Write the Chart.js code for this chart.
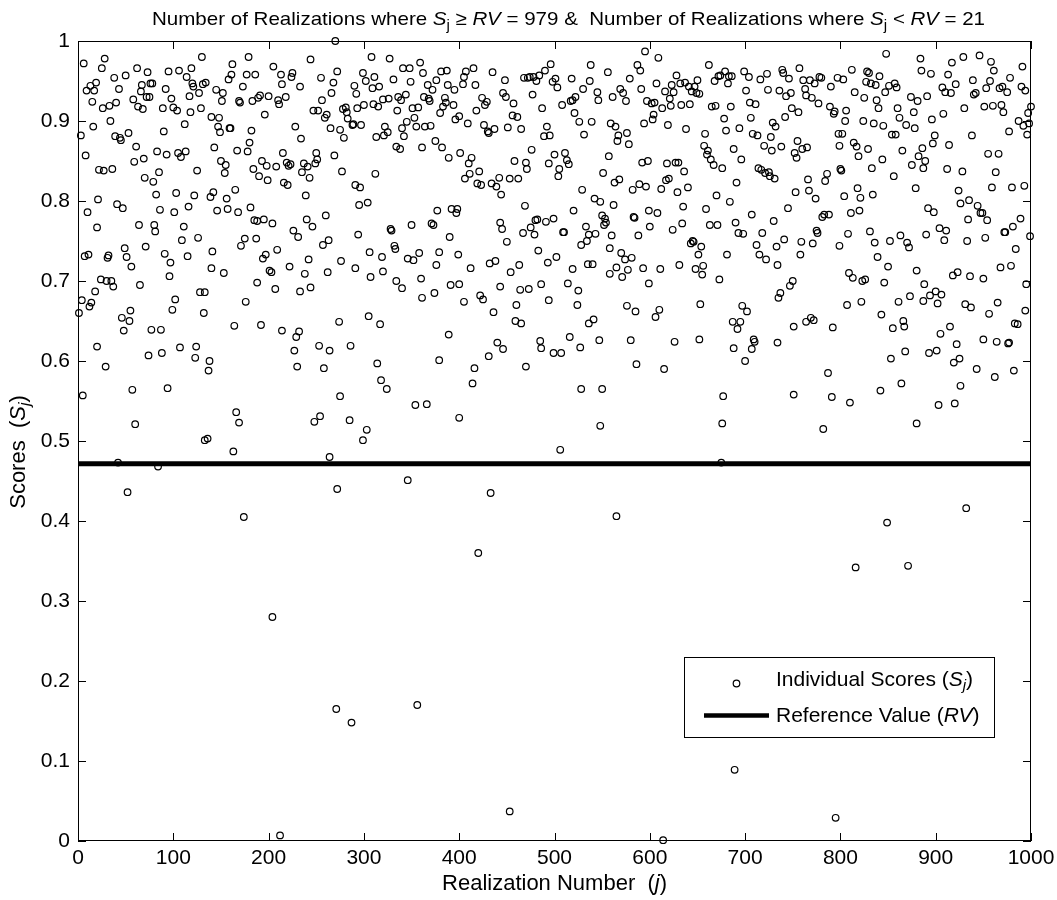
<!DOCTYPE html>
<html lang="en">
<head>
<meta charset="UTF-8">
<title>Individual scores vs realization number</title>
<script src="https://cdn.jsdelivr.net/npm/chart.js@4.4.1/dist/chart.umd.min.js"></script>
<style>
  html, body { margin: 0; padding: 0; background: #fff; }
  #wrap { width: 1057px; height: 900px; }
</style>
</head>
<body>
<div id="wrap"><canvas id="chart" width="1057" height="900"></canvas></div>
<script>
// Scores as [realization j, score S_j], grouped by x range
const scores0to200 = [
  [130,0.980],[28,0.978],[179,0.980],[162,0.971],[6,0.972],[25,0.966],[62,0.966],[119,0.966],[106,0.963],[95,0.962],
  [73,0.961],[50,0.957],[38,0.954],[161,0.958],[177,0.958],[186,0.958],[114,0.955],[158,0.952],[134,0.948],[19,0.948],
  [76,0.947],[78,0.947],[67,0.945],[120,0.947],[13,0.944],[121,0.943],[173,0.943],[131,0.946],[43,0.940],[9,0.938],
  [17,0.938],[92,0.940],[66,0.937],[145,0.939],[152,0.935],[127,0.935],[117,0.931],[200,0.931],[191,0.932],[189,0.929],
  [72,0.930],[75,0.930],[58,0.927],[98,0.928],[15,0.924],[40,0.923],[151,0.925],[169,0.925],[170,0.923],[183,0.925],
  [26,0.916],[33,0.919],[63,0.918],[68,0.915],[89,0.916],[100,0.917],[104,0.913],[118,0.911],[129,0.916],[196,0.908],
  [140,0.905],[148,0.904],[34,0.900],[112,0.896],[16,0.893],[147,0.893],[159,0.891],[160,0.891],[149,0.886],[3,0.882],
  [182,0.888],[90,0.887],[53,0.885],[39,0.881],[44,0.879],[45,0.876],[61,0.868],[143,0.867],[180,0.873],[8,0.857],
  [83,0.862],[93,0.858],[105,0.860],[113,0.862],[108,0.855],[167,0.863],[178,0.862],[69,0.853],[59,0.849],[150,0.850],
  [155,0.845],[193,0.850],[198,0.844],[22,0.839],[27,0.838],[36,0.840],[85,0.836],[125,0.838],[184,0.840],[154,0.835],
  [70,0.829],[79,0.824],[190,0.831],[199,0.826],[165,0.814],[82,0.808],[103,0.810],[122,0.807],[142,0.811],[139,0.805],
  [156,0.803],[21,0.802],[41,0.796],[47,0.791],[10,0.786],[86,0.789],[101,0.786],[116,0.793],[146,0.788],[157,0.790],
  [168,0.786],[181,0.792],[185,0.776],[188,0.775],[195,0.777],[64,0.770],[80,0.770],[81,0.762],[111,0.768],[20,0.767],
  [175,0.753],[187,0.753],[126,0.754],[109,0.751],[49,0.741],[71,0.743],[171,0.744],[7,0.731],[11,0.733],[31,0.729],
  [32,0.732],[51,0.730],[141,0.737],[91,0.734],[115,0.731],[197,0.733],[194,0.728],[56,0.718],[97,0.723],[140,0.716],
  [153,0.710],[96,0.706],[201,0.713],[24,0.702],[30,0.700],[35,0.700],[37,0.693],[65,0.695],[188,0.698],[18,0.687],
  [4,0.676],[14,0.673],[12,0.668],[1,0.660],[128,0.686],[133,0.686],[102,0.677],[99,0.664],[132,0.660],[176,0.674],
  [46,0.654],[55,0.663],[54,0.650],[48,0.638],[77,0.639],[87,0.639],[164,0.644],[192,0.645],[20,0.618],[74,0.607],
  [88,0.610],[107,0.617],[124,0.618],[123,0.604],[138,0.600],[137,0.588],[29,0.593],[5,0.557],[57,0.564],[94,0.566],
  [166,0.536],[169,0.523],[60,0.521],[133,0.501],[136,0.503],[163,0.487],[42,0.473]
];

const scores200to400 = [
  [270,1.000],[244,0.977],[308,0.980],[327,0.978],[205,0.968],[213,0.958],[225,0.960],[224,0.955],[272,0.962],[299,0.960],
  [255,0.954],[311,0.955],[341,0.966],[348,0.966],[359,0.973],[362,0.960],[381,0.962],[387,0.963],[376,0.951],[214,0.946],
  [233,0.943],[268,0.948],[302,0.950],[331,0.952],[349,0.949],[367,0.945],[388,0.945],[210,0.926],[211,0.921],[218,0.930],
  [290,0.944],[292,0.934],[309,0.941],[316,0.943],[372,0.939],[395,0.939],[266,0.935],[256,0.926],[247,0.913],[252,0.913],
  [259,0.904],[261,0.908],[278,0.915],[281,0.917],[282,0.911],[283,0.903],[288,0.895],[289,0.896],[297,0.895],[293,0.916],
  [300,0.920],[310,0.921],[315,0.918],[320,0.927],[326,0.928],[336,0.930],[339,0.926],[344,0.933],[363,0.930],[368,0.928],
  [369,0.925],[385,0.929],[386,0.923],[383,0.918],[394,0.920],[380,0.910],[335,0.913],[351,0.916],[357,0.917],[353,0.904],
  [345,0.899],[228,0.893],[234,0.878],[265,0.891],[275,0.889],[279,0.879],[313,0.880],[321,0.882],[325,0.886],[322,0.893],
  [340,0.891],[342,0.881],[355,0.893],[364,0.893],[370,0.894],[396,0.902],[400,0.906],[334,0.868],[338,0.865],[361,0.867],
  [375,0.875],[382,0.867],[389,0.854],[401,0.860],[215,0.860],[250,0.860],[251,0.852],[249,0.847],[237,0.847],[241,0.843],
  [235,0.836],[219,0.848],[221,0.844],[223,0.846],[208,0.843],[216,0.823],[220,0.820],[243,0.829],[269,0.857],[277,0.837],
  [312,0.834],[291,0.820],[296,0.817],[239,0.807],[295,0.795],[304,0.798],[204,0.772],[240,0.777],[246,0.768],[260,0.782],
  [226,0.763],[231,0.755],[257,0.745],[263,0.751],[294,0.758],[328,0.765],[329,0.763],[350,0.770],[371,0.772],[373,0.770],
  [377,0.788],[392,0.790],[398,0.790],[397,0.785],[390,0.755],[209,0.739],[242,0.727],[276,0.725],[306,0.736],[319,0.730],
  [332,0.744],[333,0.740],[346,0.728],[352,0.726],[358,0.735],[379,0.736],[399,0.733],[203,0.711],[222,0.718],[238,0.709],
  [262,0.711],[291,0.716],[307,0.705],[320,0.712],[334,0.700],[340,0.691],[360,0.703],[376,0.720],[391,0.695],[400,0.696],
  [207,0.690],[233,0.687],[244,0.692],[361,0.679],[374,0.685],[214,0.638],[232,0.637],[229,0.630],[274,0.649],[305,0.656],
  [317,0.646],[389,0.633],[227,0.613],[253,0.619],[264,0.613],[286,0.619],[230,0.593],[258,0.591],[314,0.597],[379,0.601],
  [318,0.576],[324,0.565],[275,0.556],[354,0.545],[366,0.546],[248,0.524],[254,0.531],[285,0.526],[303,0.514],[299,0.501],
  [264,0.480],[400,0.529]
];

const scores400to600 = [
  [595,0.987],[538,0.970],[587,0.970],[590,0.963],[556,0.961],[496,0.971],[490,0.963],[484,0.957],[478,0.955],[474,0.955],
  [472,0.954],[468,0.954],[481,0.950],[501,0.953],[498,0.949],[503,0.942],[518,0.953],[537,0.950],[530,0.940],[545,0.936],
  [546,0.926],[561,0.930],[569,0.940],[572,0.935],[575,0.925],[579,0.953],[591,0.940],[597,0.925],[435,0.961],[448,0.951],
  [415,0.966],[407,0.962],[405,0.955],[404,0.946],[417,0.945],[446,0.935],[449,0.930],[457,0.922],[477,0.933],[424,0.929],
  [429,0.924],[427,0.920],[487,0.916],[508,0.920],[517,0.925],[519,0.926],[522,0.930],[521,0.910],[526,0.899],[539,0.899],
  [531,0.883],[559,0.897],[564,0.893],[567,0.882],[566,0.875],[576,0.885],[578,0.871],[594,0.897],[409,0.897],[418,0.913],
  [426,0.895],[430,0.887],[431,0.885],[437,0.890],[451,0.892],[456,0.907],[461,0.905],[465,0.890],[492,0.893],[489,0.881],
  [495,0.882],[476,0.864],[410,0.847],[413,0.854],[421,0.837],[411,0.834],[406,0.828],[419,0.822],[423,0.820],[434,0.822],
  [439,0.818],[442,0.829],[444,0.808],[453,0.828],[462,0.828],[458,0.850],[470,0.848],[471,0.840],[494,0.847],[500,0.858],
  [505,0.840],[504,0.831],[511,0.860],[513,0.851],[515,0.846],[557,0.856],[551,0.835],[529,0.814],[542,0.803],[548,0.799],
  [562,0.795],[563,0.823],[568,0.827],[582,0.814],[589,0.821],[592,0.848],[598,0.850],[596,0.818],[469,0.794],[520,0.788],
  [599,0.788],[443,0.773],[445,0.765],[450,0.749],[467,0.760],[475,0.767],[479,0.758],[480,0.776],[482,0.777],[491,0.774],
  [499,0.778],[483,0.738],[510,0.761],[509,0.761],[533,0.768],[536,0.758],[543,0.759],[528,0.745],[534,0.750],[550,0.782],
  [553,0.778],[552,0.770],[554,0.773],[560,0.757],[583,0.780],[584,0.779],[588,0.757],[600,0.768],[558,0.741],[570,0.735],
  [574,0.727],[581,0.729],[565,0.717],[577,0.714],[571,0.705],[558,0.709],[593,0.716],[412,0.716],[432,0.722],[438,0.725],
  [454,0.711],[463,0.720],[493,0.723],[502,0.730],[519,0.715],[535,0.721],[540,0.721],[405,0.674],[422,0.682],[425,0.677],
  [436,0.661],[443,0.693],[460,0.670],[464,0.689],[473,0.690],[486,0.696],[494,0.676],[514,0.697],[525,0.688],[524,0.670],
  [459,0.650],[465,0.647],[536,0.647],[541,0.652],[576,0.669],[585,0.662],[599,0.697],[440,0.623],[446,0.615],[431,0.606],
  [485,0.625],[486,0.616],[499,0.610],[507,0.610],[516,0.630],[527,0.617],[547,0.626],[580,0.626],[586,0.596],[470,0.593],
  [416,0.591],[414,0.572],[528,0.565],[550,0.565],[548,0.519],[506,0.489]
];

const scores600to800 = [
  [609,0.979],[662,0.970],[628,0.957],[607,0.947],[616,0.937],[623,0.945],[625,0.936],[632,0.947],[637,0.948],[641,0.943],
  [644,0.937],[647,0.943],[650,0.951],[649,0.935],[652,0.934],[668,0.950],[672,0.956],[674,0.957],[679,0.962],[683,0.956],
  [682,0.947],[686,0.956],[699,0.962],[704,0.955],[716,0.952],[723,0.959],[701,0.938],[724,0.939],[739,0.964],[740,0.960],
  [746,0.953],[736,0.938],[743,0.931],[748,0.935],[757,0.966],[761,0.951],[768,0.951],[763,0.940],[773,0.947],[778,0.955],
  [780,0.954],[790,0.943],[797,0.954],[764,0.932],[770,0.929],[777,0.922],[789,0.918],[794,0.912],[793,0.909],[602,0.922],
  [605,0.923],[613,0.916],[621,0.928],[622,0.919],[633,0.920],[642,0.921],[665,0.918],[669,0.919],[685,0.918],[705,0.923],
  [711,0.921],[749,0.916],[756,0.911],[742,0.905],[706,0.904],[678,0.903],[604,0.908],[603,0.902],[619,0.895],[638,0.890],
  [658,0.884],[680,0.888],[694,0.891],[708,0.884],[713,0.882],[727,0.880],[729,0.898],[732,0.893],[728,0.863],[720,0.869],
  [738,0.868],[755,0.875],[752,0.860],[754,0.854],[760,0.865],[765,0.867],[798,0.884],[799,0.869],[657,0.869],[661,0.863],
  [660,0.858],[664,0.852],[667,0.845],[676,0.841],[688,0.865],[696,0.852],[618,0.847],[627,0.848],[630,0.848],[636,0.837],
  [714,0.841],[717,0.839],[721,0.835],[725,0.836],[726,0.831],[731,0.828],[766,0.827],[786,0.834],[784,0.825],[800,0.840],
  [612,0.815],[617,0.826],[620,0.828],[629,0.811],[640,0.817],[670,0.807],[691,0.823],[753,0.811],[767,0.813],[774,0.803],
  [608,0.785],[624,0.764],[634,0.772],[635,0.793],[659,0.790],[663,0.770],[671,0.770],[684,0.799],[690,0.773],[693,0.760],
  [698,0.759],[707,0.783],[718,0.760],[730,0.775],[745,0.791],[741,0.752],[759,0.749],[771,0.747],[775,0.763],[776,0.760],
  [781,0.780],[783,0.783],[788,0.783],[799,0.744],[643,0.747],[645,0.750],[646,0.749],[654,0.743],[651,0.733],[681,0.733],
  [712,0.745],[715,0.733],[722,0.727],[733,0.743],[734,0.720],[758,0.733],[631,0.720],[648,0.715],[656,0.719],[655,0.708],
  [673,0.702],[611,0.715],[735,0.679],[737,0.685],[747,0.694],[750,0.700],[653,0.671],[610,0.664],[606,0.655],[697,0.669],
  [702,0.662],[687,0.649],[695,0.649],[692,0.640],[751,0.643],[764,0.649],[769,0.654],[772,0.651],[792,0.642],[626,0.624],
  [652,0.627],[688,0.616],[709,0.627],[710,0.624],[707,0.615],[734,0.623],[700,0.600],[615,0.590],[787,0.585],[677,0.556],
  [751,0.558],[791,0.555],[676,0.522],[782,0.515],[675,0.473]
];

const scores800to1000 = [
  [848,0.984],[884,0.978],[929,0.980],[946,0.982],[958,0.974],[917,0.973],[991,0.968],[812,0.964],[828,0.962],[830,0.960],
  [827,0.949],[832,0.947],[837,0.945],[841,0.956],[803,0.952],[851,0.944],[857,0.947],[859,0.942],[847,0.936],[815,0.936],
  [825,0.929],[838,0.926],[840,0.916],[860,0.916],[874,0.930],[881,0.925],[891,0.931],[885,0.963],[895,0.959],[913,0.958],
  [907,0.942],[910,0.936],[916,0.935],[921,0.946],[939,0.951],[940,0.933],[942,0.935],[953,0.941],[957,0.950],[961,0.963],
  [967,0.941],[970,0.943],[975,0.936],[978,0.954],[990,0.943],[994,0.938],[806,0.913],[805,0.900],[824,0.900],[835,0.897],
  [845,0.894],[854,0.883],[858,0.883],[862,0.904],[869,0.895],[877,0.911],[878,0.891],[896,0.902],[908,0.909],[930,0.916],
  [951,0.918],[960,0.919],[969,0.920],[971,0.911],[977,0.887],[987,0.900],[992,0.894],[998,0.897],[1000,0.918],[997,0.910],
  [996,0.883],[899,0.882],[897,0.872],[914,0.870],[938,0.882],[802,0.884],[814,0.873],[817,0.868],[819,0.856],[829,0.865],
  [833,0.841],[844,0.852],[856,0.831],[865,0.863],[875,0.845],[882,0.856],[886,0.866],[889,0.850],[887,0.841],[912,0.840],
  [928,0.837],[955,0.859],[966,0.859],[963,0.836],[801,0.838],[804,0.806],[818,0.816],[821,0.804],[834,0.808],[811,0.785],
  [820,0.788],[879,0.816],[892,0.791],[898,0.786],[924,0.813],[926,0.797],[935,0.801],[944,0.794],[947,0.785],[949,0.785],
  [954,0.776],[934,0.777],[959,0.817],[980,0.817],[993,0.819],[989,0.778],[981,0.768],[972,0.761],[973,0.761],[808,0.759],
  [831,0.762],[836,0.748],[852,0.750],[863,0.757],[870,0.748],[872,0.742],[839,0.730],[850,0.718],[890,0.758],[904,0.766],
  [911,0.763],[909,0.751],[933,0.750],[952,0.754],[999,0.756],[984,0.740],[809,0.710],[813,0.704],[823,0.700],[826,0.702],
  [846,0.698],[880,0.713],[888,0.696],[918,0.707],[923,0.711],[936,0.706],[950,0.703],[968,0.717],[979,0.719],[995,0.696],
  [807,0.670],[822,0.674],[843,0.658],[861,0.674],[873,0.681],[887,0.675],[894,0.682],[900,0.687],[902,0.672],[906,0.683],
  [931,0.671],[937,0.667],[965,0.673],[956,0.659],[994,0.663],[855,0.641],[866,0.650],[867,0.643],[905,0.634],[915,0.643],
  [950,0.627],[964,0.624],[976,0.622],[977,0.623],[983,0.647],[986,0.646],[922,0.621],[853,0.603],[868,0.612],[893,0.610],
  [901,0.613],[919,0.598],[925,0.603],[943,0.590],[962,0.580],[982,0.588],[864,0.572],[842,0.563],[926,0.569],[903,0.545],
  [920,0.547],[810,0.548],[880,0.522]
];

// the 21 realizations that fall below the reference value
const scoresBelowRV = [
  [52,0.436],[84,0.468],[174,0.405],[204,0.280],[212,0.007],[271,0.165],[272,0.440],[287,0.148],[346,0.451],[356,0.170],
  [420,0.360],[433,0.435],[453,0.037],[565,0.406],[614,0.001],[689,0.089],[795,0.029],[816,0.342],[849,0.398],[871,0.344],
  [932,0.416]
];

const referenceValue = 0.4715;
const countAbove = 979;
const countBelow = 21;

const xTicks = [0, 100, 200, 300, 400, 500, 600, 700, 800, 900, 1000];
const xTickLabels = ['0', '100', '200', '300', '400', '500', '600', '700', '800', '900', '1000'];
const yTicks = [0, 0.1, 0.2, 0.3, 0.4, 0.5, 0.6, 0.7, 0.8, 0.9, 1];
const yTickLabels = ['0', '0.1', '0.2', '0.3', '0.4', '0.5', '0.6', '0.7', '0.8', '0.9', '1'];

const FONT = '"Liberation Sans", Arial, Helvetica, sans-serif';

const allScores = [].concat(scores0to200, scores200to400, scores400to600,
  scores600to800, scores800to1000, scoresBelowRV);

// text with italic / subscript pieces: [text, style] with style '', 'i', 'sub', 'isub'
function setFont(ctx, style, size) {
  const sub = style.indexOf('sub') >= 0;
  const it = style.charAt(0) === 'i';
  ctx.font = (it ? 'italic ' : '') + (sub ? Math.round(size * 0.72) : size) + 'px ' + FONT;
}
function richWidth(ctx, parts, size) {
  let w = 0;
  for (const [t, s] of parts) { setFont(ctx, s, size); w += ctx.measureText(t).width; }
  return w;
}
function drawRich(ctx, parts, x, y, size) {
  ctx.textAlign = 'left';
  ctx.textBaseline = 'middle';
  for (const [t, s] of parts) {
    setFont(ctx, s, size);
    const dy = s.indexOf('sub') >= 0 ? size * 0.3 : 0;
    ctx.fillText(t, x, y + dy);
    x += ctx.measureText(t).width;
  }
}

const titleParts = [
  ['Number of Realizations where ', ''], ['S', 'i'], ['j', 'sub'], [' \u2265 ', ''], ['RV', 'i'],
  [' = ' + countAbove + ' &  Number of Realizations where ', ''], ['S', 'i'], ['j', 'sub'], [' < ', ''],
  ['RV', 'i'], [' = ' + countBelow, '']
];
const xTitleParts = [['Realization Number  (', ''], ['j', 'i'], [')', '']];
const yTitleParts = [['Scores  (', ''], ['S', 'i'], ['j', 'isub'], [')', '']];
const legendScoreParts = [['Individual Scores (', ''], ['S', 'i'], ['j', 'isub'], [')', '']];
const legendRefParts = [['Reference Value (', ''], ['RV', 'i'], [')', '']];

// MATLAB-like box with inward ticks, titles and legend
const decorations = {
  id: 'decorations',
  afterDraw(chart) {
    const ctx = chart.ctx;
    const a = chart.chartArea;
    const sx = chart.scales.x, sy = chart.scales.y;
    ctx.save();
    ctx.strokeStyle = '#000';
    ctx.fillStyle = '#000';
    ctx.lineWidth = 1;
    ctx.strokeRect(a.left + 0.5, a.top + 0.5, a.right - a.left - 1, a.bottom - a.top - 1);
    const tl = 8;
    ctx.beginPath();
    for (const v of xTicks) {
      const px = Math.round(sx.getPixelForValue(v)) + 0.5;
      ctx.moveTo(px, a.bottom); ctx.lineTo(px, a.bottom - tl);
      ctx.moveTo(px, a.top); ctx.lineTo(px, a.top + tl);
    }
    for (const v of yTicks) {
      const py = Math.round(sy.getPixelForValue(v)) + 0.5;
      ctx.moveTo(a.left, py); ctx.lineTo(a.left + tl, py);
      ctx.moveTo(a.right, py); ctx.lineTo(a.right - tl, py);
    }
    ctx.stroke();

    // title, squeezed horizontally like the original
    const tSize = 19;
    const tw = richWidth(ctx, titleParts, tSize);
    ctx.save();
    ctx.translate(152, 20);
    ctx.scale(833 / tw, 1);
    drawRich(ctx, titleParts, 0, 0, tSize);
    ctx.restore();

    // axis titles
    const aSize = 22;
    const xw = richWidth(ctx, xTitleParts, aSize);
    drawRich(ctx, xTitleParts, (a.left + a.right) / 2 - xw / 2, 884, aSize);
    const yw = richWidth(ctx, yTitleParts, aSize);
    ctx.save();
    ctx.translate(19, 452);
    ctx.rotate(-Math.PI / 2);
    drawRich(ctx, yTitleParts, -yw / 2, 0, aSize);
    ctx.restore();

    // legend
    const lx = 684, ly = 657, lw = 310, lh = 80;
    ctx.fillStyle = '#fff';
    ctx.fillRect(lx, ly, lw, lh);
    ctx.strokeRect(lx + 0.5, ly + 0.5, lw, lh);
    ctx.fillStyle = '#000';
    ctx.lineWidth = 1.2;
    ctx.beginPath();
    ctx.arc(736.5, 683.5, 3.3, 0, Math.PI * 2);
    ctx.stroke();
    ctx.lineWidth = 4.5;
    ctx.beginPath();
    ctx.moveTo(704, 715.5); ctx.lineTo(769, 715.5);
    ctx.stroke();
    drawRich(ctx, legendScoreParts, 776, 680, 21);
    drawRich(ctx, legendRefParts, 776, 716, 21);
    ctx.restore();
  }
};

new Chart(document.getElementById('chart'), {
  type: 'scatter',
  data: {
    datasets: [
      {
        label: 'Reference Value (RV)',
        type: 'line',
        data: [{ x: xTicks[0], y: referenceValue }, { x: xTicks[xTicks.length - 1], y: referenceValue }],
        borderColor: '#000',
        borderWidth: 5,
        pointRadius: 0,
        order: 0
      },
      {
        label: 'Individual Scores (Sj)',
        data: allScores.map(([j, s]) => ({ x: j, y: s })),
        pointStyle: 'circle',
        pointRadius: 3.3,
        pointBorderWidth: 1.2,
        borderColor: '#000',
        backgroundColor: 'rgba(0,0,0,0)',
        clip: false,
        order: 1
      }
    ]
  },
  options: {
    responsive: false,
    animation: false,
    devicePixelRatio: 1,
    layout: { padding: { left: 0, top: 41, right: 26, bottom: 0 } },
    plugins: { legend: { display: false }, tooltip: { enabled: false }, title: { display: false } },
    scales: {
      x: {
        type: 'linear', min: 0, max: 1000,
        afterBuildTicks: s => { s.ticks = xTicks.map(v => ({ value: v })); },
        afterFit: s => { s.height = 59; s.paddingRight = 0; s.paddingLeft = 0; },
        grid: { display: false, drawTicks: false },
        border: { display: false },
        ticks: {
          color: '#000', font: { family: FONT, size: 21 }, padding: 5, maxRotation: 0, autoSkip: false,
          callback: (v, i) => xTickLabels[i]
        }
      },
      y: {
        type: 'linear', min: 0, max: 1,
        afterBuildTicks: s => { s.ticks = yTicks.map(v => ({ value: v })); },
        afterFit: s => { s.width = 78; },
        grid: { display: false, drawTicks: false },
        border: { display: false },
        ticks: {
          color: '#000', font: { family: FONT, size: 21 }, padding: 8, autoSkip: false,
          callback: (v, i) => yTickLabels[i]
        }
      }
    }
  },
  plugins: [decorations]
});
</script>
</body>
</html>
